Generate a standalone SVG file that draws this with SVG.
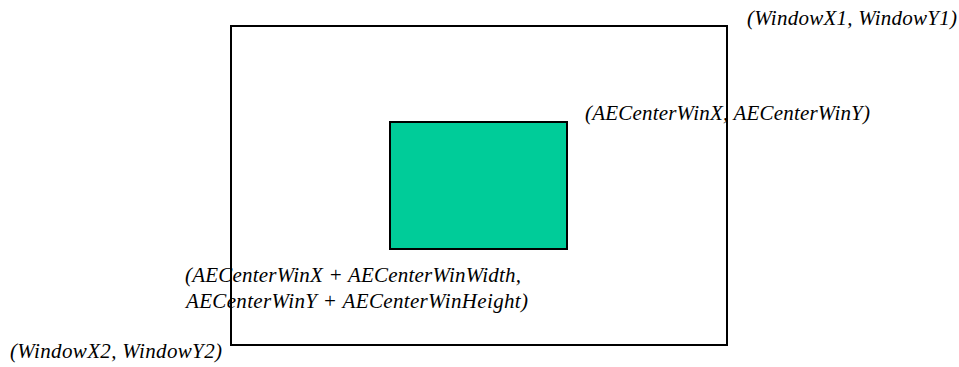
<svg xmlns="http://www.w3.org/2000/svg" width="959" height="367" viewBox="0 0 959 367">
  <style>
    .box { stroke: #000000; stroke-width: 2; }
    .lbl { font-family: "Liberation Serif", "Times New Roman", serif; font-style: italic; font-size: 21px; fill: #000000; }
  </style>
  <rect width="959" height="367" fill="#ffffff"/>
  <g id="window">
    <rect class="box" x="231" y="26" width="496" height="319" fill="#ffffff"/>
    <text class="lbl" x="747" y="25" textLength="210">(WindowX1, WindowY1)</text>
    <text class="lbl" x="10" y="358" textLength="212">(WindowX2, WindowY2)</text>
  </g>
  <g id="centerwin">
    <rect class="box" x="390" y="122" width="177" height="127" fill="#00CC99"/>
    <text class="lbl" x="585" y="120" textLength="285">(AECenterWinX, AECenterWinY)</text>
    <text class="lbl" x="185" y="282" textLength="336">(AECenterWinX + AECenterWinWidth,</text>
    <text class="lbl" x="186" y="308" textLength="342">AECenterWinY + AECenterWinHeight)</text>
  </g>
  <g id="connectors"/>
</svg>
